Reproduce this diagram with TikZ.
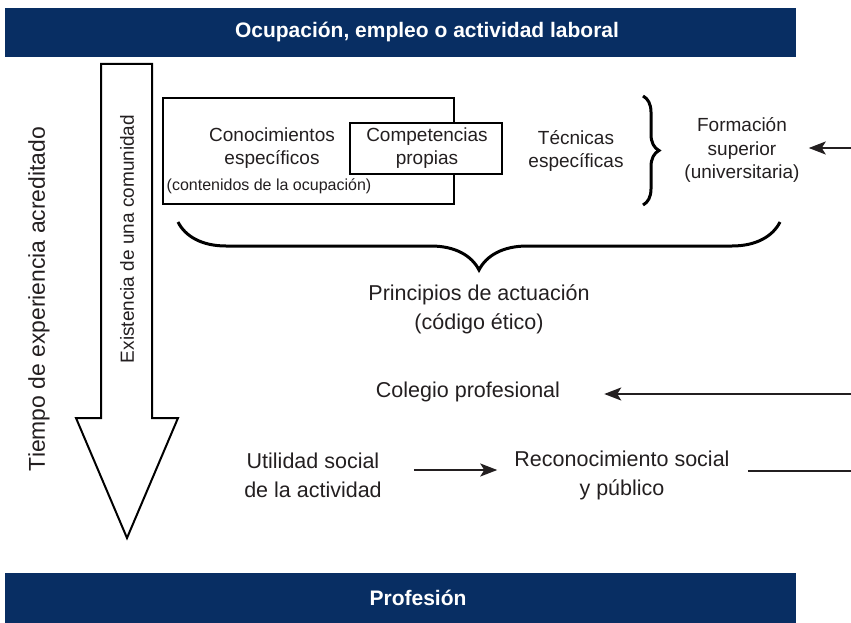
\documentclass[tikz,border=0pt]{standalone}
\usepackage{fontspec}
\setmainfont{Liberation Sans}
\usetikzlibrary{arrows.meta,decorations.pathreplacing}
\definecolor{navy}{RGB}{8,46,99}
\definecolor{ink}{RGB}{35,31,32}
\begin{document}
\begin{tikzpicture}[x=1pt,y=-1pt,
  txt/.style={font=\fontsize{21.5}{29}\selectfont, align=center, text=ink, inner sep=0pt},
  txtm/.style={font=\fontsize{19}{23.5}\selectfont, align=center, text=ink, inner sep=0pt},
  txts/.style={font=\fontsize{16}{20}\selectfont, align=center, text=ink, inner sep=0pt},
  titlef/.style={font=\bfseries\fontsize{21}{24}\selectfont, text=white, inner sep=0pt},
  bar/.style={fill=navy, draw=none},
  conn/.style={line width=2.1pt, draw=ink, -{Stealth[length=17pt,width=13pt,inset=4pt]}},
  plain/.style={line width=2.1pt, draw=ink},
  boxx/.style={draw=black, line width=2pt, fill=white, inner sep=0pt},
  bracestyle/.style={line width=3pt, draw=black, decorate},
]
\useasboundingbox (0,0) rectangle (851,623);
% bars
\node[bar, minimum width=791pt, minimum height=49pt, inner sep=0pt] (topbar) at (400.5,32.5) {};
\node[bar, minimum width=791pt, minimum height=50pt, inner sep=0pt] (botbar) at (400.5,598) {};
\node[titlef] (toptitle) at (427,32) {Ocupación, empleo o actividad laboral};
\node[titlef] (bottitle) at (418,598) {Profesión};
% big arrow
\draw[line width=2pt, line join=miter, fill=white]
  (101,64) -- (152,64) -- (152,418) -- (178,418) -- (127,538) -- (76,418) -- (101,418) -- cycle;
\node[txtm, rotate=90] (exist) at (127,239) {Existencia de una comunidad};
\node[font=\fontsize{22.9}{26}\selectfont, text=ink, inner sep=0pt, rotate=90] (tiempo) at (39,299) {Tiempo de experiencia acreditado};
% boxes
\node[boxx, minimum width=291pt, minimum height=106pt] (conbox) at (308.5,151) {};
\node[txtm] (con) at (272,148) {Conocimientos\\específicos};
\node[txts] (conte) at (269,186) {(contenidos de la ocupación)};
\node[boxx, minimum width=152pt, minimum height=51pt] (compbox) at (426,148.5) {};
\node[txtm] (comp) at (427,148) {Competencias\\propias};
\node[txtm] (tec) at (576,151) {Técnicas\\específicas};
\coordinate (rbA) at (643,96);
\coordinate (rbB) at (643,205);
\draw[bracestyle, decoration={brace, amplitude=16pt}] (rbA) -- (rbB);
\node[txtm] (form) at (742,150) {Formación\\superior\\(universitaria)};
\coordinate (edge1) at (851,148);
\draw[conn] (edge1) -- ([xshift=9pt,yshift=2pt]form.east);
% under brace
\coordinate (ubA) at (780,222);
\coordinate (ubB) at (178,222);
\draw[bracestyle, decoration={brace, amplitude=48pt}] (ubA) -- (ubB);
\node[txt] (prin) at (479,309) {Principios de actuación\\(código ético)};
\node[txt] (col) at (468,392) {Colegio profesional};
\coordinate (edge2) at (851,394);
\draw[conn] (edge2) -- ([xshift=44pt,yshift=-2pt]col.east);
\node[txt] (util) at (313,475) {Utilidad social\\de la actividad};
\node[txt] (reco) at (622,475) {Reconocimiento social\\y público};
\draw[conn] ([xshift=32pt,yshift=5pt]util.east) -- ([xshift=-17pt,yshift=5pt]reco.west);
\coordinate (edge3) at (851,471);
\draw[plain] ([xshift=18pt,yshift=4pt]reco.east) -- (edge3);
\end{tikzpicture}
\end{document}
